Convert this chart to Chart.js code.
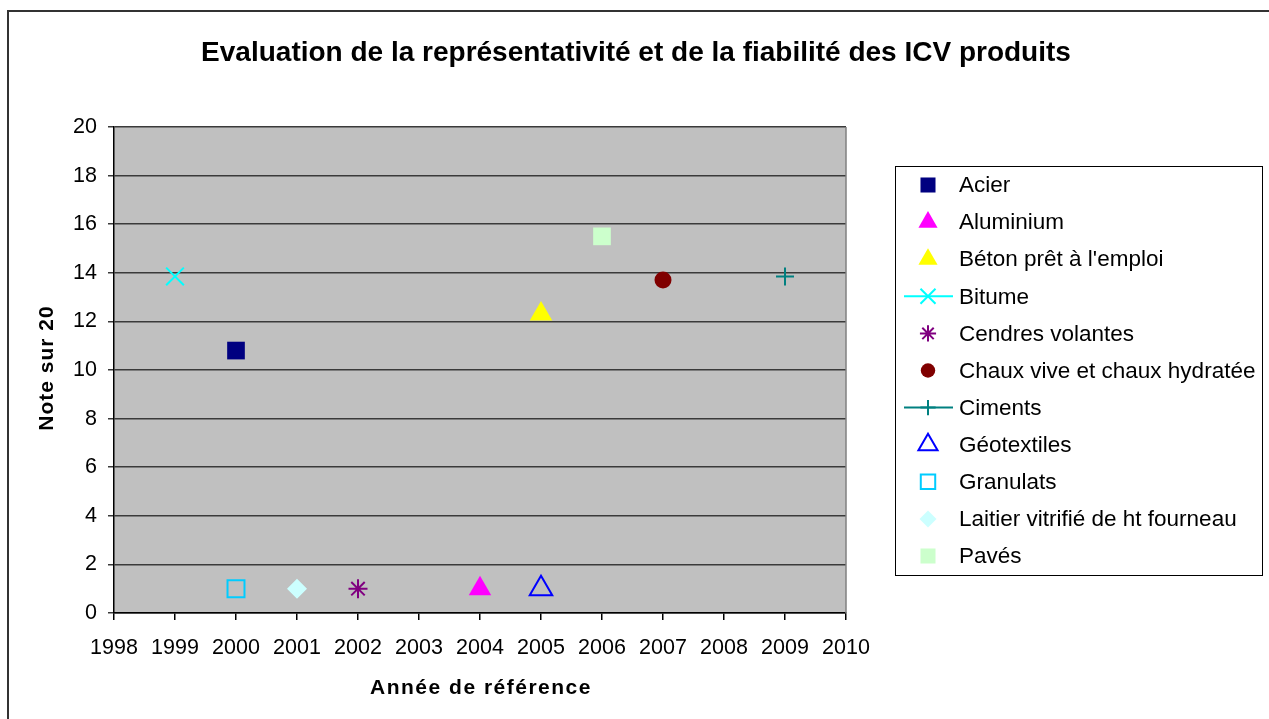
<!DOCTYPE html>
<html>
<head>
<meta charset="utf-8">
<script src="https://cdn.jsdelivr.net/npm/chart.js@4"></script>
<style>
  html, body { margin: 0; padding: 0; background: #fff; }
  #wrap { width: 1269px; height: 719px; position: relative; }
</style>
</head>
<body>
<div id="wrap"><canvas id="chart" width="1269" height="719"></canvas></div>
<script>
// Données
const series = ['Acier', 'Aluminium', "Béton prêt à l'emploi", 'Bitume', 'Cendres volantes',
  'Chaux vive et chaux hydratée', 'Ciments', 'Géotextiles', 'Granulats',
  'Laitier vitrifié de ht fourneau', 'Pavés'];
const annees = [2000, 2004, 2005, 1999, 2002, 2007, 2009, 2005, 2000, 2001, 2006];
const notes = [10.8, 1, 12.3, 13.85, 1, 13.7, 13.85, 1, 1, 1, 15.5];

const xMin = 1998, xMax = 2010, xStep = 1;
const yMin = 0, yMax = 20, yStep = 2;

const titre = 'Evaluation de la représentativité et de la fiabilité des ICV produits';
const titreX = 'Année de référence';
const titreY = 'Note sur 20';

// Style des marqueurs (façon Excel)
const styles = [
  { pointStyle: 'rect', color: '#000080', fill: true, radius: 12.5 },
  { pointStyle: 'triangle', color: '#FF00FF', fill: true, radius: 13 },
  { pointStyle: 'triangle', color: '#FFFF00', fill: true, radius: 13 },
  { pointStyle: 'crossRot', color: '#00FFFF', fill: false, radius: 12.5, line: true },
  { pointStyle: 'star', color: '#800080', fill: false, radius: 9.5 },
  { pointStyle: 'circle', color: '#800000', fill: true, radius: 8.5 },
  { pointStyle: 'cross', color: '#008080', fill: false, radius: 9, line: true },
  { pointStyle: 'triangle', color: '#0000FF', fill: false, radius: 13 },
  { pointStyle: 'rect', color: '#00CCFF', fill: false, radius: 12 },
  { pointStyle: 'rectRot', color: '#CCFFFF', fill: true, radius: 10 },
  { pointStyle: 'rect', color: '#CCFFCC', fill: true, radius: 12.5 }
];

const police = 'Arial, "Liberation Sans", sans-serif';

const datasets = series.map((nom, i) => {
  const s = styles[i];
  return {
    label: nom,
    data: [{ x: annees[i], y: notes[i] }],
    pointStyle: s.pointStyle,
    pointRadius: s.radius,
    pointHoverRadius: s.radius,
    backgroundColor: s.fill ? s.color : 'rgba(0,0,0,0)',
    borderColor: s.color,
    pointBorderWidth: s.fill ? 0 : 2,
    borderWidth: s.fill ? 0 : 2,
    showLine: !!s.line
  };
});

// Fond gris de la zone de tracé, cadre extérieur, bord droit, titres
const fondPlugin = {
  id: 'fond',
  beforeDraw(chart) {
    const { ctx, chartArea: a } = chart;
    ctx.save();
    ctx.fillStyle = '#C0C0C0';
    ctx.fillRect(a.left, a.top, a.right - a.left, a.bottom - a.top);
    ctx.strokeStyle = '#333';
    ctx.lineWidth = 2;
    ctx.beginPath();
    ctx.moveTo(8, 719);
    ctx.lineTo(8, 11);
    ctx.lineTo(1269, 11);
    ctx.stroke();
    ctx.restore();
  },
  afterDatasetsDraw(chart) {
    const { ctx, chartArea: a } = chart;
    ctx.save();
    ctx.strokeStyle = '#808080';
    ctx.lineWidth = 1.5;
    ctx.beginPath();
    ctx.moveTo(a.right, a.top);
    ctx.lineTo(a.right, a.bottom);
    ctx.stroke();

    ctx.fillStyle = '#000';
    ctx.textAlign = 'center';
    ctx.textBaseline = 'middle';
    // titre principal
    ctx.font = 'bold 28px ' + police;
    ctx.fillText(titre, 636, 53);
    // titres des axes (légèrement espacés comme dans l'original)
    ctx.font = 'bold 21px ' + police;
    ctx.letterSpacing = '1.5px';
    ctx.fillText(titreX, (a.left + a.right) / 2 + 1, 688);
    ctx.letterSpacing = '1px';
    ctx.translate(47, (a.top + a.bottom) / 2 - 2);
    ctx.rotate(-Math.PI / 2);
    ctx.fillText(titreY, 0, 0);
    ctx.restore();
  }
};

// Légende encadrée à droite
const legendePlugin = {
  id: 'legende',
  afterDraw(chart) {
    const { ctx } = chart;
    const bx = 895, by = 166, bw = 367, bh = 409;
    ctx.save();
    ctx.fillStyle = '#fff';
    ctx.fillRect(bx, by, bw, bh);
    ctx.strokeStyle = '#000';
    ctx.lineWidth = 1;
    ctx.strokeRect(bx + 0.5, by + 0.5, bw, bh);
    chart.data.datasets.forEach((ds, i) => {
      const y = by + 19 + i * 37.1;
      const mx = 928;
      if (ds.showLine) {
        ctx.strokeStyle = ds.borderColor;
        ctx.lineWidth = 2;
        ctx.beginPath();
        ctx.moveTo(904, y);
        ctx.lineTo(953, y);
        ctx.stroke();
      }
      ctx.fillStyle = ds.backgroundColor;
      ctx.strokeStyle = ds.borderColor;
      ctx.lineWidth = ds.pointBorderWidth || 0.01;
      Chart.helpers.drawPoint(ctx, {
        pointStyle: ds.pointStyle,
        radius: ds.pointRadius * 0.85,
        rotation: 0,
        borderWidth: ds.pointBorderWidth
      }, mx, y);
      ctx.fillStyle = '#000';
      ctx.font = '22.5px ' + police;
      ctx.textAlign = 'left';
      ctx.textBaseline = 'middle';
      ctx.fillText(ds.label, 959, y + 1);
    });
    ctx.restore();
  }
};

new Chart(document.getElementById('chart'), {
  type: 'scatter',
  data: { datasets: datasets },
  plugins: [fondPlugin, legendePlugin],
  options: {
    responsive: false,
    animation: false,
    layout: { padding: { left: 0, top: 127, right: 423, bottom: 0 } },
    plugins: {
      legend: { display: false },
      title: { display: false },
      tooltip: { enabled: false }
    },
    scales: {
      x: {
        type: 'linear',
        min: xMin,
        max: xMax,
        afterFit(scale) { scale.height = 106; },
        ticks: {
          stepSize: xStep,
          color: '#000',
          padding: 15,
          maxRotation: 0,
          font: { family: police, size: 21.5 },
          callback: v => String(v)
        },
        grid: { drawOnChartArea: false, drawTicks: true, tickLength: 7, color: '#000', lineWidth: 1.5 },
        border: { color: '#000', width: 1.5 }
      },
      y: {
        min: yMin,
        max: yMax,
        afterFit(scale) { scale.width = 114; },
        ticks: {
          stepSize: yStep,
          color: '#000',
          padding: 11,
          font: { family: police, size: 21.5 }
        },
        grid: { color: '#3a3a3a', lineWidth: 1.5, tickLength: 6 },
        border: { color: '#000', width: 1.5 }
      }
    }
  }
});
</script>
</body>
</html>
